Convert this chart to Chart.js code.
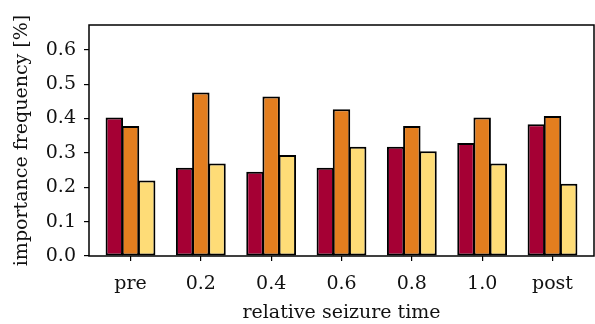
<!DOCTYPE html>
<html>
<head>
<meta charset="utf-8">
<script src="https://cdn.jsdelivr.net/npm/chart.js@4/dist/chart.umd.min.js"></script>
<style>
  html, body { margin: 0; padding: 0; background: #fff; }
  #wrap { width: 595px; height: 324px; }
</style>
</head>
<body>
<div id="wrap"><canvas id="barChart"></canvas></div>
<script>
var categories = ['pre', '0.2', '0.4', '0.6', '0.8', '1.0', 'post'];
var seriesA = [0.403, 0.257, 0.245, 0.257, 0.318, 0.329, 0.383];
var seriesB = [0.378, 0.476, 0.464, 0.427, 0.378, 0.403, 0.407];
var seriesC = [0.220, 0.269, 0.294, 0.318, 0.305, 0.269, 0.210];
var yTicks = [0.0, 0.1, 0.2, 0.3, 0.4, 0.5, 0.6];

var font = "'DejaVu Serif', 'Liberation Serif', serif";

function toPoints(values) {
  return values.map(function(v, i) { return { x: i, y: v }; });
}

// draws the closed box around the plot area
var frame = {
  id: 'frame',
  afterDraw: function(chart) {
    var a = chart.chartArea, ctx = chart.ctx;
    ctx.save();
    ctx.strokeStyle = '#000';
    ctx.lineWidth = 1.5;
    ctx.strokeRect(a.left, a.top, a.right - a.left, a.bottom - a.top);
    ctx.restore();
  }
};

var ctx = document.getElementById('barChart').getContext('2d');
var myChart = new Chart(ctx, {
  type: 'bar',
  data: {
    datasets: [
      { data: toPoints(seriesA), backgroundColor: '#a50034' },
      { data: toPoints(seriesB), backgroundColor: '#e37e1f' },
      { data: toPoints(seriesC), backgroundColor: '#fedc77' }
    ].map(function(d) {
      d.borderColor = '#000';
      d.borderWidth = 2;
      d.borderSkipped = false;
      d.barPercentage = 1.08;
      d.categoryPercentage = 0.69;
      return d;
    })
  },
  options: {
    responsive: true,
    maintainAspectRatio: false,
    animation: false,
    layout: { padding: { top: 25, right: 1, left: 0, bottom: 0 } },
    plugins: { legend: { display: false }, tooltip: { enabled: false } },
    scales: {
      x: {
        type: 'linear',
        offset: false,
        min: -0.59,
        max: 6.59,
        afterBuildTicks: function(axis) {
          axis.ticks = categories.map(function(c, i) { return { value: i }; });
        },
        afterFit: function(axis) { axis.height = 68; },
        grid: { display: true, offset: false, drawOnChartArea: false, drawTicks: true, tickLength: 5, color: '#000', lineWidth: 1.2 },
        border: { display: false },
        ticks: {
          color: '#111',
          padding: 12,
          maxRotation: 0,
          font: { family: font, size: 19 },
          callback: function(v) { return categories[v]; }
        },
        title: {
          display: true,
          text: 'relative seizure time',
          color: '#111',
          font: { family: font, size: 19 },
          padding: { top: 0, bottom: 0 }
        }
      },
      y: {
        min: 0,
        max: 0.672,
        afterBuildTicks: function(axis) {
          axis.ticks = yTicks.map(function(v) { return { value: v }; });
        },
        afterFit: function(axis) { axis.width = 89; },
        grid: { display: true, drawOnChartArea: false, drawTicks: true, tickLength: 5, color: '#000', lineWidth: 1.2 },
        border: { display: false },
        ticks: {
          color: '#111',
          padding: 8,
          font: { family: font, size: 19 },
          callback: function(v) { return v.toFixed(1); }
        },
        title: {
          display: true,
          text: 'importance frequency [%]',
          color: '#111',
          font: { family: font, size: 19 },
          padding: { top: 11, bottom: 2 }
        }
      }
    }
  },
  plugins: [frame]
});
</script>
</body>
</html>
